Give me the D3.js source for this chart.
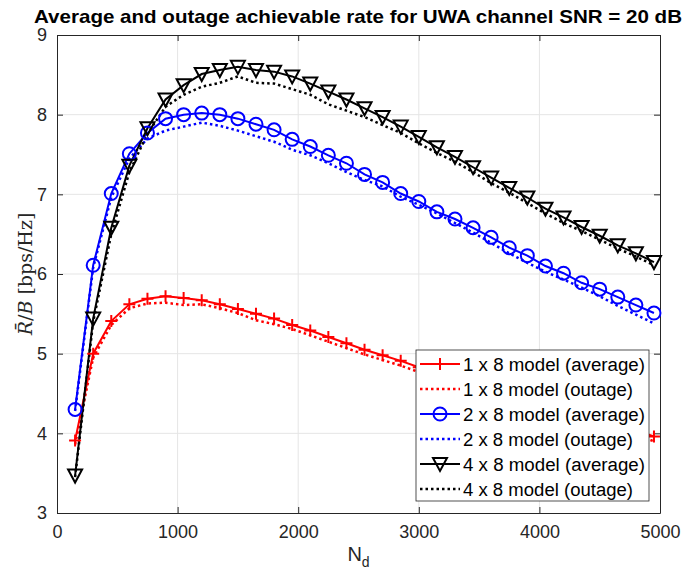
<!DOCTYPE html>
<html>
<head>
<meta charset="utf-8">
<script src="https://cdn.jsdelivr.net/npm/d3@7"></script>
<style>
  body { margin: 0; background: #fff; }
  text { font-family: "Liberation Sans", Arial, sans-serif; }
</style>
</head>
<body>
<div id="chart"></div>
<script>
// N_d values
var nd = [150, 300, 450, 600, 750, 900, 1050, 1200, 1350, 1500, 1650, 1800, 1950, 2100, 2250, 2400, 2550,
          2700, 2850, 3000, 3150, 3300, 3450, 3600, 3750, 3900, 4050, 4200, 4350, 4500, 4650, 4800, 4950];

var avg1x8 = [3.91, 5.00, 5.41, 5.62, 5.69, 5.72, 5.70, 5.67, 5.62, 5.56, 5.50, 5.44, 5.36, 5.29, 5.21, 5.13, 5.05,
              4.98, 4.91, 4.83, 4.77, 4.70, 4.64, 4.57, 4.51, 4.45, 4.38, 4.32, 4.25, 4.18, 4.11, 4.04, 3.96];
var out1x8 = [3.86, 4.95, 5.36, 5.57, 5.63, 5.64, 5.61, 5.62, 5.57, 5.51, 5.42, 5.37, 5.31, 5.23, 5.15, 5.07, 4.99,
              4.92, 4.85, 4.77, 4.71, 4.64, 4.58, 4.51, 4.45, 4.39, 4.32, 4.26, 4.19, 4.12, 4.05, 3.98, 3.90];
var avg2x8 = [4.30, 6.11, 7.01, 7.51, 7.77, 7.95, 8.00, 8.02, 8.00, 7.95, 7.88, 7.81, 7.69, 7.60, 7.49, 7.39, 7.25,
              7.15, 7.01, 6.91, 6.78, 6.69, 6.58, 6.46, 6.33, 6.23, 6.10, 6.01, 5.89, 5.81, 5.71, 5.61, 5.51];
var out2x8 = [4.28, 6.08, 6.96, 7.45, 7.70, 7.80, 7.85, 7.90, 7.86, 7.80, 7.73, 7.66, 7.56, 7.49, 7.39, 7.28, 7.18,
              7.10, 6.97, 6.87, 6.76, 6.64, 6.52, 6.39, 6.26, 6.14, 6.03, 5.93, 5.83, 5.72, 5.60, 5.49, 5.38];
var avg4x8 = [3.47, 5.44, 6.58, 7.36, 7.83, 8.19, 8.37, 8.51, 8.56, 8.60, 8.56, 8.54, 8.48, 8.39, 8.29, 8.19, 8.08,
              7.97, 7.85, 7.72, 7.59, 7.47, 7.34, 7.21, 7.08, 6.96, 6.82, 6.71, 6.59, 6.48, 6.36, 6.26, 6.15];
var out4x8 = [3.45, 5.40, 6.50, 7.28, 7.76, 8.10, 8.25, 8.35, 8.40, 8.48, 8.40, 8.39, 8.32, 8.25, 8.13, 8.05, 7.97,
              7.87, 7.77, 7.64, 7.52, 7.41, 7.28, 7.14, 7.02, 6.89, 6.76, 6.64, 6.54, 6.43, 6.32, 6.22, 6.11];

var xTicks = [0, 1000, 2000, 3000, 4000, 5000];
var yTicks = [3, 4, 5, 6, 7, 8, 9];

var seriesNames = ["1 x 8 model (average)", "1 x 8 model (outage)",
                   "2 x 8 model (average)", "2 x 8 model (outage)",
                   "4 x 8 model (average)", "4 x 8 model (outage)"];

var series = [
    {name: seriesNames[0], values: avg1x8, color: "#ff0000", dotted: false, marker: "plus"},
    {name: seriesNames[1], values: out1x8, color: "#ff0000", dotted: true, marker: null},
    {name: seriesNames[2], values: avg2x8, color: "#0000ff", dotted: false, marker: "circle"},
    {name: seriesNames[3], values: out2x8, color: "#0000ff", dotted: true, marker: null},
    {name: seriesNames[4], values: avg4x8, color: "#000000", dotted: false, marker: "tri"},
    {name: seriesNames[5], values: out4x8, color: "#000000", dotted: true, marker: null}
];

var W = 685, H = 573;
var margin = {left: 57, right: 25, top: 35, bottom: 60};
var pw = W - margin.left - margin.right,
    ph = H - margin.top - margin.bottom;

var svg = d3.select("#chart").append("svg")
    .attr("width", W)
    .attr("height", H);

var x = d3.scaleLinear().domain([0, 5000]).range([0, pw]);
var y = d3.scaleLinear().domain([3, 9]).range([ph, 0]);

var g = svg.append("g")
    .attr("transform", "translate(" + margin.left + "," + margin.top + ")");

// grid
g.append("g").selectAll("line.vg")
    .data(xTicks.slice(1, -1))
    .enter().append("line")
    .attr("x1", function (d) { return x(d); })
    .attr("x2", function (d) { return x(d); })
    .attr("y1", 0).attr("y2", ph)
    .style("stroke", "#e5e5e5").style("stroke-width", 1);
g.append("g").selectAll("line.hg")
    .data(yTicks.slice(1, -1))
    .enter().append("line")
    .attr("y1", function (d) { return y(d); })
    .attr("y2", function (d) { return y(d); })
    .attr("x1", 0).attr("x2", pw)
    .style("stroke", "#e5e5e5").style("stroke-width", 1);

// axes (ticks inside, matlab style)
var fmt = d3.format("d");
var xAxis = d3.axisBottom(x).tickValues(xTicks).tickFormat(fmt).tickSizeInner(-6).tickSizeOuter(0).tickPadding(12);
var yAxis = d3.axisLeft(y).tickValues(yTicks).tickFormat(fmt).tickSizeInner(-6).tickSizeOuter(0).tickPadding(10);
var xTop = d3.axisTop(x).tickValues(xTicks).tickSizeInner(-6).tickSizeOuter(0).tickFormat("");
var yRight = d3.axisRight(y).tickValues(yTicks).tickSizeInner(-6).tickSizeOuter(0).tickFormat("");

function styleAxis(sel) {
    sel.selectAll("path").style("stroke", "#262626").style("stroke-width", 1);
    sel.selectAll("line").style("stroke", "#262626");
    sel.selectAll("text").style("font-size", "18px").style("fill", "#262626")
        .style("font-family", "'Liberation Sans', Arial, sans-serif");
}

g.append("g").attr("transform", "translate(0," + ph + ")").call(xAxis).call(styleAxis);
g.append("g").call(yAxis).call(styleAxis);
g.append("g").call(xTop).call(styleAxis);
g.append("g").attr("transform", "translate(" + pw + ",0)").call(yRight).call(styleAxis);

var lineGen = function (vals) {
    return d3.line()
        .x(function (d, i) { return x(nd[i]); })
        .y(function (d) { return y(d); })(vals);
};

// draw outage first, then average on top
var order = [1, 3, 5, 0, 2, 4];
order.forEach(function (k) {
    var s = series[k];
    g.append("path")
        .attr("d", lineGen(s.values))
        .style("fill", "none")
        .style("stroke", s.color)
        .style("stroke-width", s.dotted ? 2.5 : 2)
        .style("stroke-dasharray", s.dotted ? "2.5,3" : null);
});

function drawMarker(sel, type, color) {
    if (type === "plus") {
        sel.append("path").attr("d", "M-6,0H6M0,-6V6")
            .style("stroke", color).style("stroke-width", 2).style("fill", "none");
    } else if (type === "circle") {
        sel.append("circle").attr("r", 6.5)
            .style("stroke", color).style("stroke-width", 2).style("fill", "none");
    } else if (type === "tri") {
        sel.append("path").attr("d", "M-7,-6L7,-6L0,7Z")
            .style("stroke", color).style("stroke-width", 2).style("fill", "none")
            .style("stroke-linejoin", "miter");
    }
}

[0, 2, 4].forEach(function (k) {
    var s = series[k];
    g.append("g").selectAll("g.m")
        .data(s.values)
        .enter().append("g")
        .attr("transform", function (d, i) { return "translate(" + x(nd[i]) + "," + y(d) + ")"; })
        .each(function () { drawMarker(d3.select(this), s.marker, s.color); });
});

// legend
var lg = svg.append("g").attr("transform", "translate(416,350)");
lg.append("rect")
    .attr("width", 233).attr("height", 151)
    .style("fill", "#fff").style("stroke", "#262626").style("stroke-width", 0.8);
series.forEach(function (s, i) {
    var yy = 14 + i * 25;
    lg.append("line")
        .attr("x1", 4).attr("x2", 44).attr("y1", yy).attr("y2", yy)
        .style("stroke", s.color)
        .style("stroke-width", s.dotted ? 2.5 : 2)
        .style("stroke-dasharray", s.dotted ? "2.5,3" : null);
    if (s.marker) {
        drawMarker(lg.append("g").attr("transform", "translate(24," + yy + ")"), s.marker, s.color);
    }
    lg.append("text")
        .attr("x", 47).attr("y", yy + 6.5)
        .text(s.name)
        .attr("textLength", i % 2 === 0 ? 182 : 170)
        .attr("lengthAdjust", "spacingAndGlyphs")
        .style("font-size", "18px")
        .style("fill", "#000");
});

// title
svg.append("text")
    .attr("x", 358)
    .attr("y", 23)
    .attr("text-anchor", "middle")
    .attr("textLength", 648)
    .attr("lengthAdjust", "spacingAndGlyphs")
    .text("Average and outage achievable rate for UWA channel SNR = 20 dB")
    .style("font-size", "18.5px")
    .style("font-weight", "bold")
    .style("fill", "#000");

// x label
var xl = svg.append("text")
    .attr("x", margin.left + pw / 2)
    .attr("y", 561)
    .attr("text-anchor", "middle")
    .style("font-size", "20px")
    .style("fill", "#262626");
xl.append("tspan").text("N");
xl.append("tspan").attr("dy", 6).style("font-size", "14px").text("d");

// y label (latex style)
var yl = svg.append("text")
    .attr("transform", "translate(32," + (margin.top + ph / 2) + ") rotate(-90)")
    .attr("text-anchor", "middle")
    .style("font-family", "'DejaVu Serif', 'Liberation Serif', serif")
    .style("font-size", "19px")
    .style("fill", "#262626");
yl.append("tspan").style("font-style", "italic").text("R\u0304");
yl.append("tspan").text("/");
yl.append("tspan").style("font-style", "italic").text("B");
yl.append("tspan").text(" [bps/Hz]");
</script>
</body>
</html>
